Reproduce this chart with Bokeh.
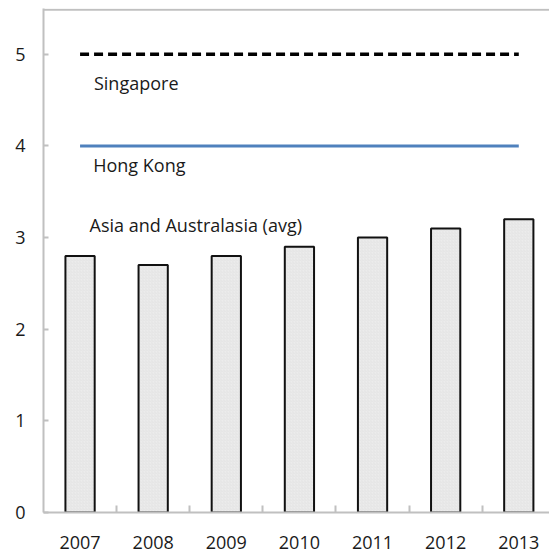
from bokeh.plotting import figure
from bokeh.models import Range1d, FixedTicker, ColumnDataSource, Span
from bokeh.core.properties import value
from bokeh.embed import file_html
from bokeh.resources import INLINE

years = ["2007", "2008", "2009", "2010", "2011", "2012", "2013"]
asia_avg = [2.8, 2.7, 2.8, 2.9, 3.0, 3.1, 3.2]
singapore = [5, 5, 5, 5, 5, 5, 5]
hong_kong = [4, 4, 4, 4, 4, 4, 4]
y_ticks = [0, 1, 2, 3, 4, 5]

FONT = "Open Sans"
FS = "18px"
GRID = "#c0c0c0"

idx = list(range(len(years)))
src = ColumnDataSource(dict(x=idx, year=years, asia=asia_avg, sg=singapore, hk=hong_kong))

p = figure(width=549, height=554, output_backend="svg", toolbar_location=None,
           x_range=Range1d(-0.5, 6.42), y_range=Range1d(0, 5.5),
           min_border_left=43, min_border_right=0, min_border_top=8, min_border_bottom=42)
p.outline_line_color = None
p.xgrid.visible = False
p.ygrid.visible = False
p.background_fill_color = "white"
p.border_fill_color = "white"

p.vbar(x="x", top="asia", width=0.4, bottom=0, source=src,
       fill_color="#ececec", line_color="#111111", line_width=2,
       hatch_pattern="right_diagonal_line", hatch_color="#dcdcdc",
       hatch_scale=3, hatch_weight=0.5)

p.line(x="x", y="sg", source=src, line_color="black", line_width=3.5, line_dash="9 5")
p.line(x="x", y="hk", source=src, line_color="#4f81bd", line_width=3)

p.add_layout(Span(location=5.485, dimension="width", line_color=GRID, line_width=2))

p.text(x=[0.19], y=[4.685], text=["Singapore"], text_font=value(FONT),
       text_font_size=FS, text_color="#1a1a1a", text_baseline="alphabetic")
p.text(x=[0.18], y=[3.795], text=["Hong Kong"], text_font=value(FONT),
       text_font_size=FS, text_color="#1a1a1a", text_baseline="alphabetic")
p.text(x=[0.13], y=[3.14], text=["Asia and Australasia (avg)"], text_font=value(FONT),
       text_font_size=FS, text_color="#1a1a1a", text_baseline="alphabetic")

xa = p.xaxis[0]
xa.ticker = FixedTicker(ticks=idx, minor_ticks=[i + 0.5 for i in idx[:-1]])
xa.major_label_overrides = {i: y for i, y in zip(idx, years)}
xa.major_tick_in = 0
xa.major_tick_out = 0
xa.minor_tick_in = 7
xa.minor_tick_out = 0
xa.minor_tick_line_color = GRID
xa.minor_tick_line_width = 2
xa.axis_line_color = GRID
xa.axis_line_width = 2
xa.major_label_standoff = 23
xa.major_label_text_font = FONT
xa.major_label_text_font_size = FS
xa.major_label_text_color = "#1a1a1a"

ya = p.yaxis[0]
ya.ticker = FixedTicker(ticks=y_ticks, minor_ticks=[])
ya.major_tick_in = 5
ya.major_tick_out = 0
ya.major_tick_line_color = GRID
ya.major_tick_line_width = 2
ya.minor_tick_line_color = None
ya.axis_line_color = GRID
ya.axis_line_width = 2
ya.major_label_standoff = 18
ya.major_label_text_font = FONT
ya.major_label_text_font_size = FS
ya.major_label_text_color = "#1a1a1a"

open("out.html", "w").write(file_html(p, INLINE))
